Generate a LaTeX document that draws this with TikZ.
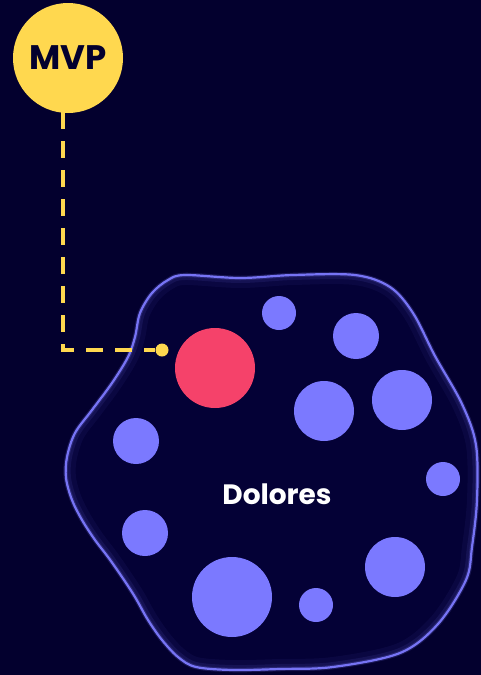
\documentclass[tikz,border=0pt]{standalone}
\usepackage{fontspec}
\setmainfont{Poppins}
\definecolor{bg}{HTML}{03002E}
\definecolor{blobfill}{HTML}{040136}
\definecolor{blobline}{HTML}{7774F5}
\definecolor{dotc}{HTML}{7B79FF}
\definecolor{redc}{HTML}{F5426A}
\definecolor{yel}{HTML}{FFD84F}
\begin{document}
\begin{tikzpicture}[x=1pt,y=-1pt,
  bubble/.style={circle,fill=dotc,inner sep=0pt,minimum size=#1},
  conn/.style={draw=yel,line width=3.2pt,dash pattern=on 17pt off 12pt},
]
\fill[bg] (0,0) rectangle (481,675);
\useasboundingbox (0,0) rectangle (481,675);
% blob
\def\blobpath{plot[smooth cycle,tension=0.55] coordinates {(185,275) (240,278) (293,275) (355,275) (390,287) (413,313) (435,356) (462,404) (476,445) (477,500) (472,547) (466,580) (438,624) (400,653) (333,667) (280,669) (233,670) (196,667) (178,657) (162,640) (148,620) (135,597) (122,577) (108,557) (95,540) (82,520) (72,500) (66,478) (67,457) (75,433) (92,410) (112,383) (128,357) (135,337) (140,313) (152,293) (168,280)}}
\fill[blobfill] \blobpath;
\begin{scope}
\clip \blobpath;
\draw[blobline,line width=20pt,opacity=0.06] \blobpath;
\draw[blobline,line width=10pt,opacity=0.1] \blobpath;
\end{scope}
\draw[blobline,line width=4.5pt,opacity=0.2] \blobpath;
\draw[blobline,line width=2.2pt] \blobpath;
% bubbles
\foreach \n/\x/\y/\r in {b1/279/313/17,b2/356/336/23,b3/324/411/30,b4/402/400/30,b5/136/441/23,b6/443/479/17,b7/145/533/23,b8/232/597/40,b9/316/605/17,b10/395/567/30}{
  \node[bubble=2*\r] (\n) at (\x,\y) {};
}
% red
\node[circle,fill=redc,inner sep=0pt,minimum size=80] (red) at (215,368) {};
% label
\node[text=white,font=\bfseries\fontsize{28}{28}\selectfont] (dol) at (277,494) {Dolores};
% MVP
\node[circle,fill=yel,inner sep=0pt,minimum size=110,text=bg,font=\bfseries\fontsize{34}{34}\selectfont] (mvp) at (68,58) {MVP};
\coordinate (top) at (63,112);
\node[circle,fill=yel,inner sep=0pt,minimum size=13] (dot) at (162,350) {};
\draw[conn] (top) |- (dot);
\end{tikzpicture}
\end{document}
